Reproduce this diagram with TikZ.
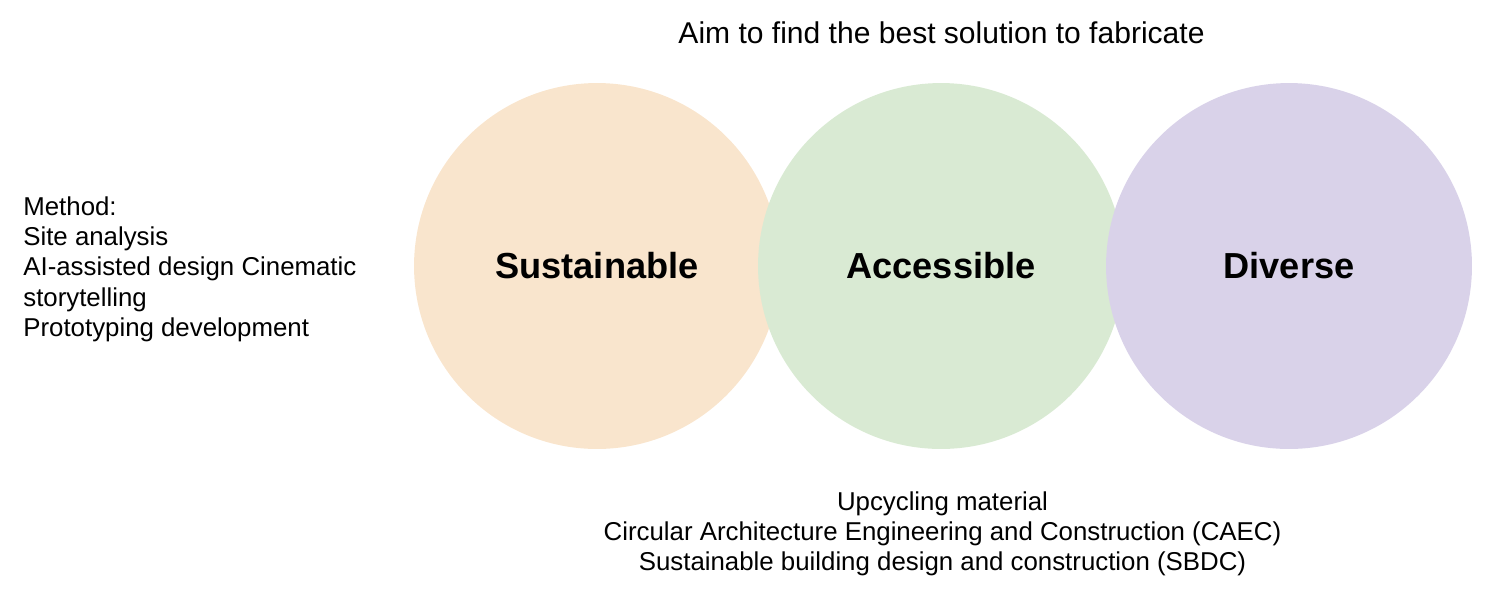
\documentclass[tikz,border=0pt]{standalone}
\usepackage{fontspec}
\setmainfont{Liberation Sans}
\usepackage{xcolor}
\usepackage{tikz}

\definecolor{sustfill}{HTML}{F9E5CD}
\definecolor{accfill}{HTML}{D9EAD3}
\definecolor{divfill}{HTML}{D9D2E9}

\begin{document}
\begin{tikzpicture}[x=0.02cm, y=-0.02cm,
  bubble/.style={circle, minimum size=7.32cm, inner sep=0pt,
    font=\fontsize{20.6}{24}\selectfont\bfseries},
  note/.style={inner sep=0pt, font=\fontsize{14.7}{17.3}\selectfont}]
  \useasboundingbox (0,0) rectangle (1500,600);
  \def\cy{266}
  % the three circles, each one over the one before
  \node[bubble, fill=sustfill] (sustainable) at (597,\cy) {Sustainable};
  \node[bubble, fill=accfill] (accessible) at (941,\cy) {Accessible};
  \node[bubble, fill=divfill] (diverse) at (1289,\cy) {Diverse};
  % texts
  \node[inner sep=0pt, font=\fontsize{17.1}{20}\selectfont]
    (aim) at (941.5,33) {Aim to find the best solution to fabricate};
  \node[note, anchor=north west, align=left] (method) at (23,196)
    {Method:\\Site analysis\\AI-assisted design Cinematic\\storytelling\\Prototyping development};
  \node[note, anchor=north, align=center] (material) at (942.5,491)
    {Upcycling material\\Circular Architecture Engineering and Construction (CAEC)\\Sustainable building design and construction (SBDC)};
\end{tikzpicture}
\end{document}
